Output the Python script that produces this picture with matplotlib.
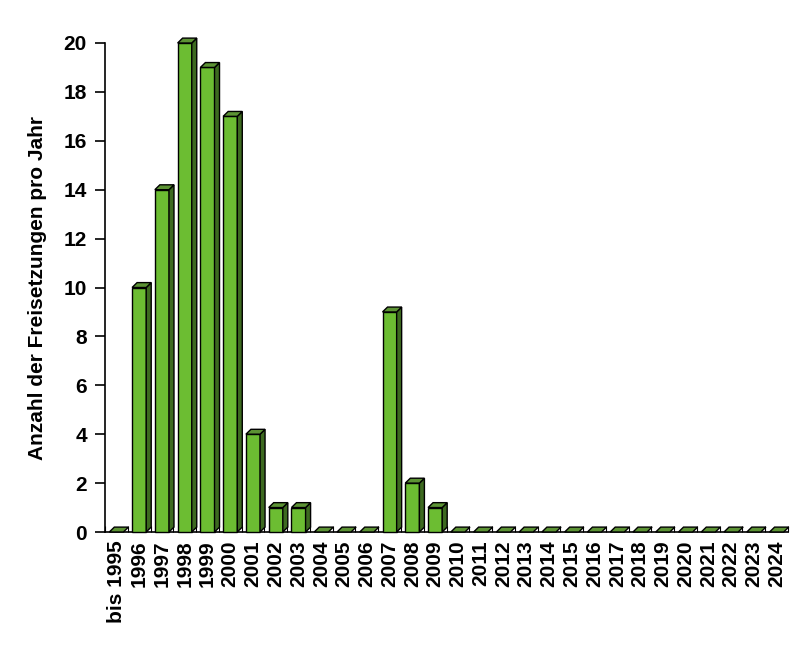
import matplotlib
matplotlib.use("Agg")
import matplotlib.pyplot as plt
from matplotlib.patches import Polygon
import numpy as np

categories = ["bis 1995"] + [str(y) for y in range(1996, 2025)]
values = [0, 10, 14, 20, 19, 17, 4, 1, 1, 0, 0, 0, 9, 2, 1,
          0, 0, 0, 0, 0, 0, 0, 0, 0, 0, 0, 0, 0, 0, 0]
yticks = list(range(0, 21, 2))

plt.rcParams['font.family'] = ['Liberation Sans', 'DejaVu Sans']
fig = plt.figure(figsize=(8.02, 6.61), dpi=100)
ax = fig.add_axes([105/802, 1-532/661, (788-105)/802, (532-43)/661])

front_c = "#6cbd32"
side_c = "#3d6a20"
top_c = "#5c9334"
w = 0.62
dx, dy = 0.22, 0.2
n = len(categories)
for i, v in enumerate(values):
    x0 = i + 0.5 - w/2
    x1 = i + 0.5 + w/2
    if v > 0:
        ax.add_patch(Polygon([(x0, 0), (x1, 0), (x1, v), (x0, v)], closed=True,
                             facecolor=front_c, edgecolor="black", lw=1.0, clip_on=False, zorder=3))
        ax.add_patch(Polygon([(x1, 0), (x1+dx, dy), (x1+dx, v+dy), (x1, v)], closed=True,
                             facecolor=side_c, edgecolor="black", lw=1.0, clip_on=False, zorder=3))
    ax.add_patch(Polygon([(x0, v), (x1, v), (x1+dx, v+dy), (x0+dx, v+dy)], closed=True,
                         facecolor=top_c, edgecolor="black", lw=1.0, clip_on=False, zorder=3))

ax.set_xlim(0, n)
ax.set_ylim(0, 20)
ax.set_yticks(yticks)
ax.set_yticklabels([str(t) for t in yticks], fontsize=15, fontweight='bold')
ax.set_xticks(np.arange(n) + 0.5)
ax.set_xticklabels(categories, rotation=90, fontsize=15, fontweight='bold')
ax.tick_params(axis='x', length=0, pad=6)
ax.set_xticks(np.arange(n + 1), minor=True)
ax.tick_params(axis='x', which='minor', direction='in', length=4, width=0.8)
ax.tick_params(axis='y', direction='out', length=7, width=1.2, pad=6)
for s in ['top', 'right']:
    ax.spines[s].set_visible(False)
ax.spines['left'].set_linewidth(1.2)
ax.spines['bottom'].set_linewidth(1.2)
ax.set_ylabel("Anzahl der Freisetzungen pro Jahr", fontsize=15, fontweight='bold', labelpad=12)
fig.savefig("out.png", dpi=100)
